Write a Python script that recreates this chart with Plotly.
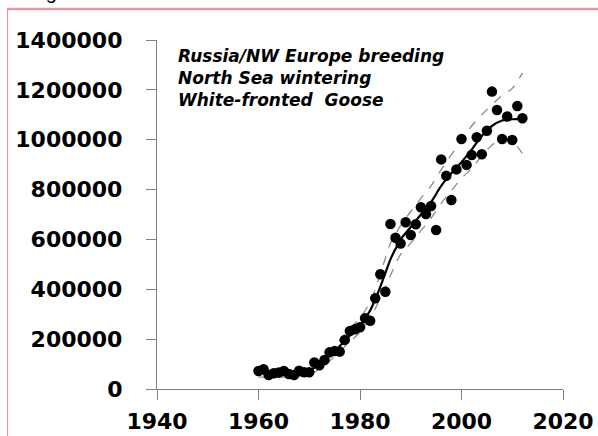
import plotly.graph_objects as go

# Observed counts (annual)
years = list(range(1960, 2013))
counts = [72000, 79000, 56000, 63000, 66000, 72000, 60000, 56000, 73000, 67000,
          67000, 106000, 95000, 116000, 147000, 152000, 150000, 197000, 233000, 240000,
          248000, 284000, 274000, 364000, 460000, 390000, 662000, 607000, 584000, 669000,
          618000, 661000, 729000, 702000, 734000, 638000, 921000, 855000, 758000, 881000,
          1003000, 899000, 939000, 1010000, 942000, 1036000, 1193000, 1119000, 1003000, 1093000,
          999000, 1135000, 1086000]

# Smoothed trend and confidence band
trend_years = [1960, 1962, 1964, 1966, 1968, 1970, 1972, 1974, 1976, 1978, 1980, 1982,
               1983, 1984, 1985, 1986, 1987, 1988, 1990, 1992, 1994, 1996, 1998, 2000,
               2002, 2004, 2006, 2008, 2010, 2012]
trend = [64000, 63000, 62000, 62000, 65000, 75000, 98000, 132000, 172000, 215000, 255000, 315000,
         360000, 410000, 465000, 520000, 562000, 600000, 650000, 700000, 750000, 815000, 865000, 910000,
         960000, 1015000, 1055000, 1077000, 1082000, 1082000]
upper = [80000, 78000, 76000, 76000, 80000, 92000, 115000, 152000, 195000, 242000, 285000, 350000,
         400000, 460000, 525000, 585000, 620000, 655000, 712000, 765000, 815000, 880000, 940000, 995000,
         1055000, 1100000, 1140000, 1178000, 1206000, 1268000]
lower = [48000, 48000, 48000, 48000, 50000, 58000, 80000, 112000, 150000, 190000, 228000, 282000,
         322000, 365000, 410000, 455000, 500000, 540000, 585000, 635000, 685000, 745000, 795000, 845000,
         885000, 935000, 978000, 1005000, 992000, 945000]

x_ticks = [1940, 1960, 1980, 2000, 2020]
y_ticks = [0, 200000, 400000, 600000, 800000, 1000000, 1200000, 1400000]

title_lines = ["Russia/NW Europe breeding", "North Sea wintering", "White-fronted\u00a0 Goose"]

fig = go.Figure()
for band in (upper, lower):
    fig.add_trace(go.Scatter(x=trend_years, y=band, mode="lines", line_shape="spline",
                             line=dict(color="#8a8a8a", width=1.3, dash="dash"),
                             showlegend=False, hoverinfo="skip"))
fig.add_trace(go.Scatter(x=years, y=counts, mode="markers",
                         marker=dict(color="black", size=10.5), showlegend=False))
fig.add_trace(go.Scatter(x=trend_years, y=trend, mode="lines", line_shape="spline",
                         line=dict(color="black", width=2.2), showlegend=False))

axis_font = dict(family="DejaVu Sans", size=22, color="black", weight="bold")
fig.update_xaxes(range=[1940, 2020], tickvals=x_ticks, ticktext=[str(v) for v in x_ticks],
                 showline=True, linecolor="#808080", linewidth=1.3, automargin=False,
                 ticks="outside", ticklen=10, tickcolor="#808080", tickwidth=1.3,
                 showgrid=False, zeroline=False, tickfont=axis_font, ticklabelstandoff=2)
fig.update_yaxes(range=[0, 1400000], tickvals=y_ticks, ticktext=[str(v) for v in y_ticks],
                 showline=True, linecolor="#808080", linewidth=1.3, automargin=False,
                 ticks="outside", ticklen=10, tickcolor="#808080", tickwidth=1.3,
                 showgrid=False, zeroline=False, tickfont=axis_font, ticklabelstandoff=19)

fig.add_annotation(text="<br>".join(title_lines), xref="paper", yref="paper",
                   x=(176 - 157) / 406, y=(389 - 44) / 349, xanchor="left", yanchor="top",
                   align="left", showarrow=False,
                   font=dict(family="DejaVu Sans", size=17, color="black",
                             weight="bold", style="italic"))
fig.add_annotation(text="Figure", xref="paper", yref="paper",
                   x=(27 - 157) / 406, y=(389 + 8) / 349, xanchor="left", yanchor="middle",
                   showarrow=False, font=dict(family="Liberation Sans", size=20, color="black"))

frame_col = "#e39aa2"
fig.add_shape(type="line", xref="paper", yref="paper",
              x0=(7 - 157) / 406, x1=(600 - 157) / 406, y0=(389 - 9) / 349, y1=(389 - 9) / 349,
              line=dict(color=frame_col, width=2.5))
fig.add_shape(type="line", xref="paper", yref="paper",
              x0=(7.5 - 157) / 406, x1=(7.5 - 157) / 406, y0=(389 - 9) / 349, y1=(389 - 440) / 349,
              line=dict(color=frame_col, width=1.2))

fig.update_layout(width=598, height=436, margin=dict(l=157, r=35, t=40, b=47),
                  plot_bgcolor="white", paper_bgcolor="white")

fig.write_html("out.html", config={"displayModeBar": False},
               post_script="document.body.style.margin='0';document.body.style.overflow='hidden';")
